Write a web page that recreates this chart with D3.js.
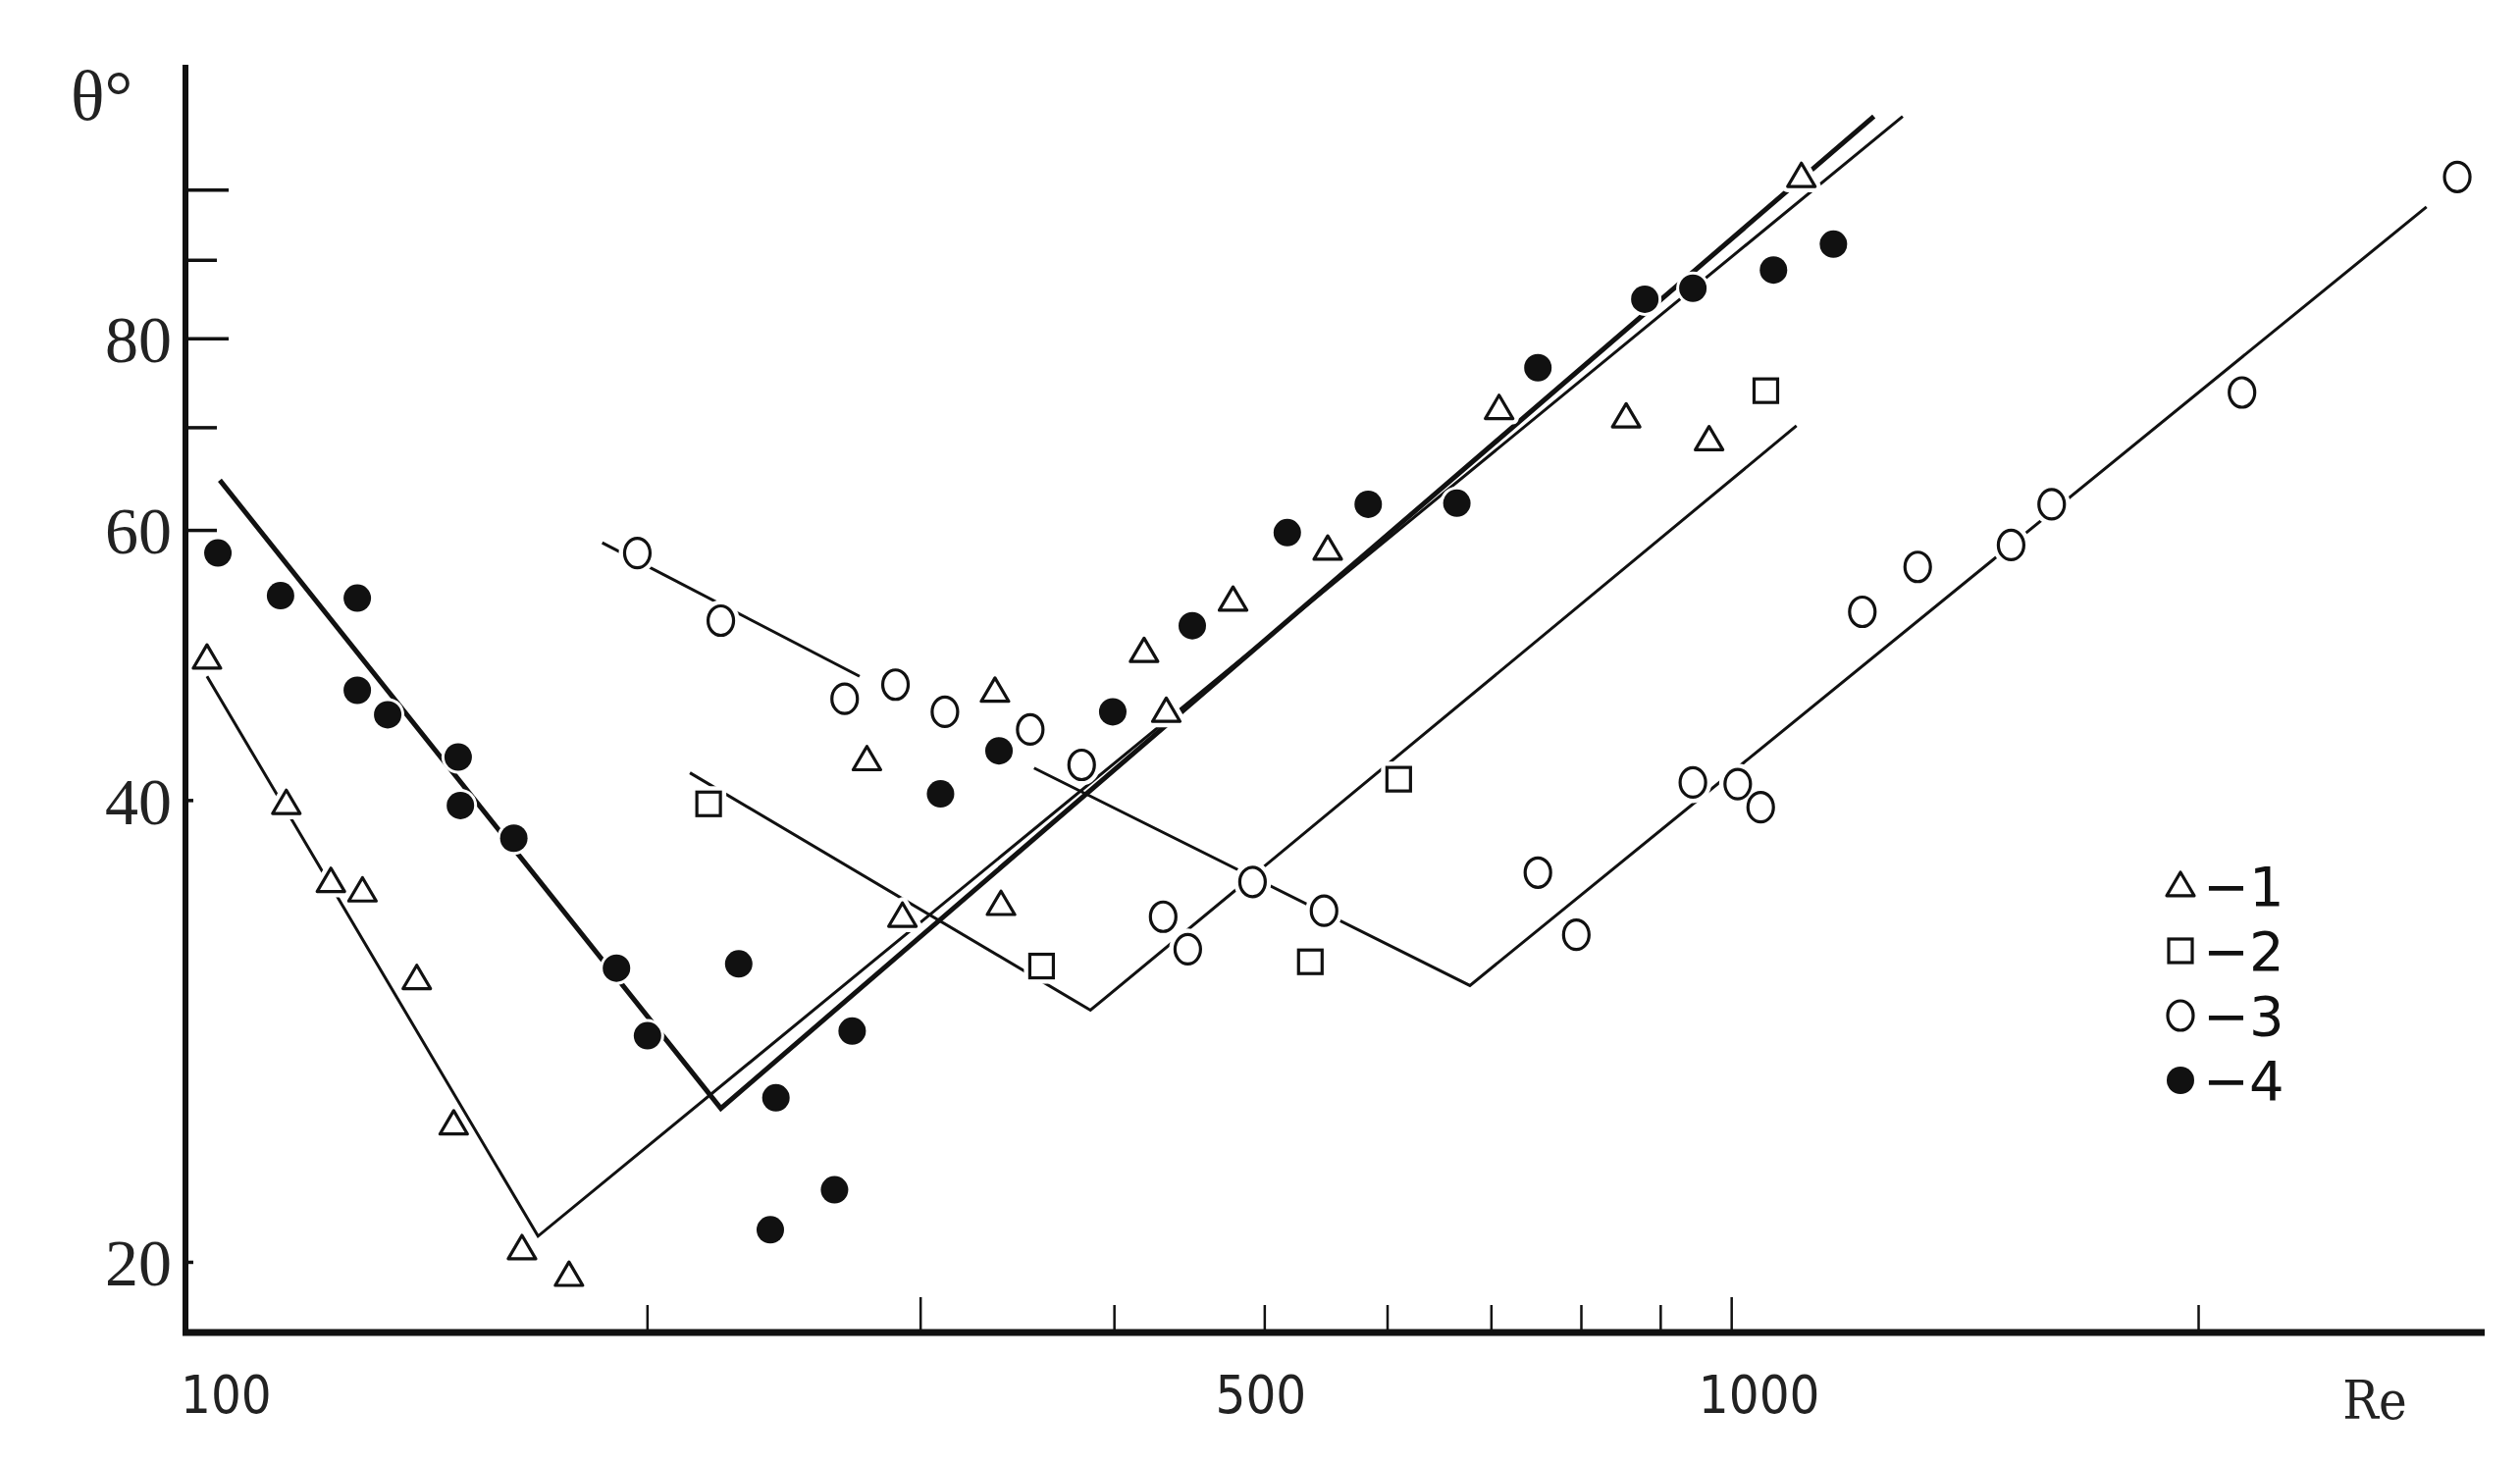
<!DOCTYPE html>
<html><head><meta charset="utf-8">
<script src="https://cdn.jsdelivr.net/npm/d3@7"></script>
<style>body{margin:0;background:#fff}</style></head>
<body><svg id="c" width="2568" height="1491"></svg>
<script>
// Series data: [Re, theta]
const s1Tri = [[104,49.5],[117,39.8],[125,35.4],[131,34.9],[142,30.6],[150,24.6],[166,20.4],[178,19.6],
  [292,33.6],[277,42.5],[335,47.1],[338,34.2],[418,50],[432,45.7],[477,54],[549,58.3],[708,72],[855,71.1],[967,68.7],[1109,102]];
const s2Sq = [[219,39.8],[359,31.2],[535,31.4],[610,41.3],[1052,74]];
const s3Open = [[197,58],[223,52.4],[268,46.6],[289,47.6],[311,45.7],[353,44.5],[381,42.2],[430,33.6],[446,32],
  [491,35.4],[546,33.9],[750,35.9],[794,32.7],[944,41.1],[1009,41],[1044,39.6],[1214,53.1],[1318,56.8],[1514,58.7],[1608,62.4],[2133,73.8],[2936,102]];
const s4Fill = [[105.7,58],[116,54.4],[130,54.2],[130,47.2],[136,45.5],[151,42.7],[151.5,39.7],[164,37.8],[191,31.1],[200,28.1],
  [229,31.3],[242,25.6],[240,21],[264,22.3],[271,28.3],[309,40.4],[337,43.1],[399,45.7],[449,52],[517,59.8],[583,62.4],[665,62.5],[750,76.6],[879,84.9],[944,86.3],[1064,88.7],[1163,92.2]];
// Fitted lines
const line1 = [[104,48.2],[170,20.8],[1289,111.7]];
const line4 = [[106,64.7],[223,25.2],[1235,111.7]];
const line2 = [[213,41.7],[386,29.2],[1101,70.2]];
const line3a = [[187,58.9],[274,48.2]];
const line3b = [[355,42],[678,30.3],[2805,97.5]];
const xTicks = [200,300,400,500,600,700,800,900,1000,2000];
const xLabels = [100,500,1000];
const yTicks = [20,40,60,70,80,90,100];
const yLabels = [20,40,60,80];
const legendItems = ["1","2","3","4"];

const svg = d3.select("#c");
const x = d3.scaleLog().domain([100,3058]).range([184,2532]);
const y = d3.scaleLog().domain([18,120.7]).range([1358,66]);
const X0 = 189, Y0 = 1358;
const ln = d3.line().x(d=>x(d[0])).y(d=>y(d[1]));

function drawLine(data, w){ svg.append("path").attr("d", ln(data)).attr("fill","none").attr("stroke","#111").attr("stroke-width", w); }
drawLine(line1,3); drawLine(line4,5); drawLine(line2,3); drawLine(line3a,3); drawLine(line3b,3);

// markers with white halo to create gaps in lines
function marker(g, type, cx, cy, halo){
  const sw = halo ? 12 : 3.2, stroke = halo ? "#fff" : "#111";
  if(type==="tri"){
    const r=14; g.append("path").attr("d",`M${cx},${cy-r}L${cx+r*1.0},${cy+r*0.7}L${cx-r*1.0},${cy+r*0.7}Z`)
      .attr("fill", halo?"#fff":"none").attr("stroke",stroke).attr("stroke-width",sw).attr("stroke-linejoin","round");
  } else if(type==="sq"){
    const r=12; g.append("rect").attr("x",cx-r).attr("y",cy-r).attr("width",2*r).attr("height",2*r)
      .attr("fill", halo?"#fff":"none").attr("stroke",stroke).attr("stroke-width",sw);
  } else if(type==="open"){
    g.append("ellipse").attr("cx",cx).attr("cy",cy).attr("rx",13).attr("ry",15)
      .attr("fill", halo?"#fff":"none").attr("stroke",stroke).attr("stroke-width",sw);
  } else {
    g.append("circle").attr("cx",cx).attr("cy",cy).attr("r",halo?17:14).attr("fill",halo?"#fff":"#111");
  }
}
const sets = [[s1Tri,"tri"],[s2Sq,"sq"],[s3Open,"open"],[s4Fill,"fill"]];
const gh = svg.append("g"), gm = svg.append("g");
sets.forEach(([d,t])=>d.forEach(p=>marker(gh,t,x(p[0]),y(p[1]),true)));
sets.forEach(([d,t])=>d.forEach(p=>marker(gm,t,x(p[0]),y(p[1]),false)));

// axes
svg.append("line").attr("x1",X0).attr("y1",66).attr("x2",X0).attr("y2",Y0+3).attr("stroke","#111").attr("stroke-width",6);
svg.append("line").attr("x1",X0-3).attr("y1",Y0).attr("x2",2532).attr("y2",Y0).attr("stroke","#111").attr("stroke-width",7);
xTicks.forEach(t=>svg.append("line").attr("x1",x(t)).attr("x2",x(t)).attr("y1",Y0).attr("y2",Y0-(t===1000||t===300?36:28)).attr("stroke","#111").attr("stroke-width",2.5));
yTicks.forEach(t=>svg.append("line").attr("x1",X0).attr("x2",X0+(t===20||t===40?8:(t===100||t===80?44:32))).attr("y1",y(t)).attr("y2",y(t)).attr("stroke","#111").attr("stroke-width",3.5));
yLabels.forEach(t=>svg.append("text").attr("x",175).attr("y",y(t)).attr("dy","0.35em").attr("text-anchor","end")
  .attr("font-family","Liberation Serif, serif").attr("font-size",68).attr("fill","#222").text(t));
svg.append("text").attr("x",72).attr("y",122).attr("font-family","Liberation Serif, serif").attr("font-size",72).attr("fill","#222").text("θ°");
xLabels.forEach(t=>svg.append("text").attr("x", t===100?184:(t===1000?x(t)+28:x(t)-4)).attr("y",1440)
  .attr("text-anchor", t===100?"start":"middle").attr("font-family","DejaVu Sans Condensed, DejaVu Sans, sans-serif").attr("font-size",54).attr("fill","#222").text(t));
svg.append("text").attr("x",2420).attr("y",1446).attr("text-anchor","middle").attr("font-family","DejaVu Serif Condensed, serif").attr("font-size",54).attr("fill","#222").text("Re");

// legend
const lg = svg.append("g");
const ltypes=["tri","sq","open","fill"];
legendItems.forEach((s,i)=>{
  const cy = 903 + i*66;
  const g = lg.append("g");
  if(ltypes[i]==="fill") g.append("circle").attr("cx",2222).attr("cy",cy).attr("r",14).attr("fill","#111");
  else marker(g, ltypes[i], 2222, cy, false);
  lg.append("text").attr("x",2245).attr("y",cy).attr("dy","0.36em").attr("font-family","DejaVu Sans, sans-serif").attr("font-size",56).attr("fill","#111").text("\u2212"+s);
});
</script></body></html>
